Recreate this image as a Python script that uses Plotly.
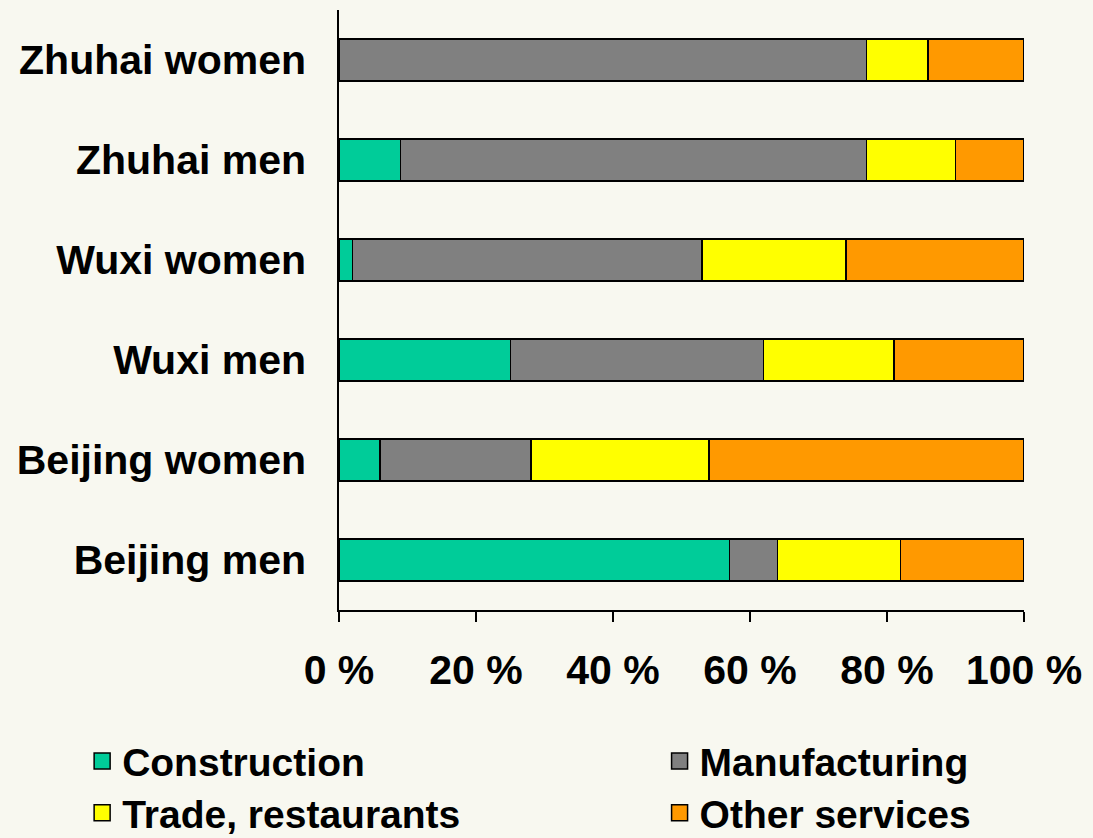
import plotly.graph_objects as go

groups = ["Beijing men", "Beijing women", "Wuxi men", "Wuxi women", "Zhuhai men", "Zhuhai women"]
construction = [57, 6, 25, 2, 9, 0]
manufacturing = [7, 22, 37, 51, 68, 77]
trade = [18, 26, 19, 21, 13, 9]
other = [18, 46, 19, 26, 10, 14]
tick_vals = [0, 20, 40, 60, 80, 100]
tick_text = ["0 %", "20 %", "40 %", "60 %", "80 %", "100 %"]

series = [
    ("Construction", construction, "#00CC99", "legend"),
    ("Manufacturing", manufacturing, "#808080", "legend2"),
    ("Trade, restaurants", trade, "#FFFF00", "legend3"),
    ("Other services", other, "#FF9900", "legend4"),
]

fig = go.Figure()
for name, vals, col, leg in series:
    fig.add_trace(go.Bar(
        y=groups, x=vals, name=name, orientation="h", showlegend=False,
        legendgroup=name,
        marker=dict(color=col, line=dict(color="black", width=1.5)),
    ))
# legend entries with larger square swatches
for name, vals, col, leg in series:
    fig.add_trace(go.Scatter(
        x=[None], y=[None], mode="markers", name="<b>%s</b>" % name,
        legendgroup=name, legend=leg,
        marker=dict(symbol="square", size=16, color=col, line=dict(color="black", width=1.5)),
    ))

font_family = "Liberation Sans, Arial, sans-serif"
leg_common = dict(
    orientation="h", xanchor="left", yanchor="middle", itemsizing="trace",
    font=dict(size=39, family=font_family, color="black"),
    bgcolor="rgba(0,0,0,0)",
)
col1_x = -0.375
col2_x = 0.468
row1_y = -0.252
row2_y = -0.338
fig.update_layout(
    barmode="stack",
    bargap=0.58,
    width=1093, height=838,
    paper_bgcolor="#F8F8F0",
    plot_bgcolor="#F8F8F0",
    margin=dict(l=339, r=69, t=10, b=228, autoexpand=False),
    font=dict(family=font_family, size=41, color="black"),
    xaxis=dict(
        range=[0, 100], tickvals=tick_vals,
        ticktext=["<b>%s</b>" % t for t in tick_text],
        ticks="outside", ticklen=10, tickwidth=1.5, tickcolor="black",
        showline=True, linecolor="black", linewidth=1.5,
        showgrid=False, zeroline=False, ticklabelstandoff=13,
        tickfont=dict(size=41),
    ),
    yaxis=dict(
        categoryorder="array", categoryarray=groups,
        tickvals=groups, ticktext=["<b>%s</b>" % g for g in groups],
        showline=True, linecolor="black", linewidth=1.5,
        showgrid=False, ticks="", ticklabelstandoff=23,
        tickfont=dict(size=41),
    ),
    legend=dict(x=col1_x, y=row1_y, **leg_common),
    legend2=dict(x=col2_x, y=row1_y, **leg_common),
    legend3=dict(x=col1_x, y=row2_y, **leg_common),
    legend4=dict(x=col2_x, y=row2_y, **leg_common),
    showlegend=True,
)

fig.write_html("out.html", config={"displayModeBar": False},
               post_script="document.body.style.margin='0';")
